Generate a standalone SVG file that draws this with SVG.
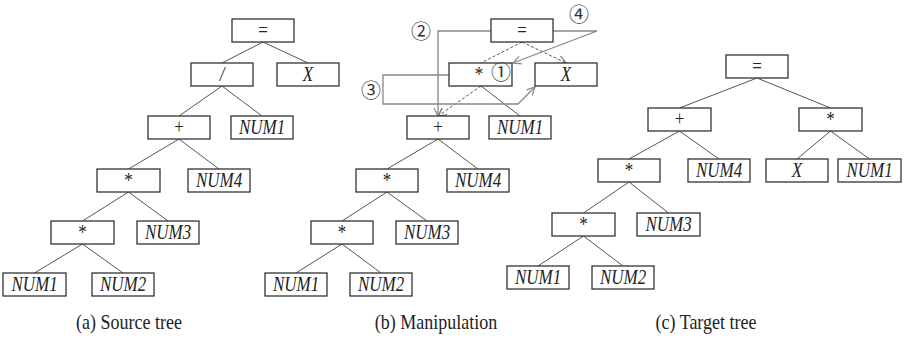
<svg xmlns="http://www.w3.org/2000/svg" width="905" height="340" viewBox="0 0 905 340">
<style>
.box{fill:#fff;stroke:#333;stroke-width:1.3}
.t{font-family:'Liberation Serif','Times New Roman',serif;font-size:17px;text-anchor:middle;fill:#222}
.i{font-style:italic}
.e{stroke:#555;stroke-width:1;fill:none}
.d{stroke:#555;stroke-width:1;fill:none;stroke-dasharray:3,2}
.m{stroke:#888;stroke-width:1.3;fill:none}
.cap{font-family:'Liberation Serif','Times New Roman',serif;font-size:18px;text-anchor:middle;fill:#222}
.cn{font-family:'Noto Sans CJK JP','DejaVu Sans',sans-serif;font-size:20px;text-anchor:middle;fill:#333}
</style>
<defs>
<marker id="ah" markerWidth="10" markerHeight="10" refX="9" refY="5" orient="auto" markerUnits="userSpaceOnUse">
<path d="M1,1 L9,5 L1,9" fill="none" stroke="#888" stroke-width="1.2"/>
</marker>
<marker id="ahd" markerWidth="10" markerHeight="10" refX="9" refY="5" orient="auto" markerUnits="userSpaceOnUse">
<path d="M1,1 L9,5 L1,9" fill="none" stroke="#555" stroke-width="1"/>
</marker>
</defs>
<g id="connectors">
<line class="e" x1="263" y1="42" x2="222" y2="63"/>
<line class="e" x1="263" y1="42" x2="308" y2="63"/>
<line class="e" x1="222" y1="86" x2="179" y2="116"/>
<line class="e" x1="222" y1="86" x2="262" y2="116"/>
<line class="e" x1="179" y1="139" x2="128.5" y2="169"/>
<line class="e" x1="179" y1="139" x2="219" y2="169"/>
<line class="e" x1="128.5" y1="192" x2="82.5" y2="221"/>
<line class="e" x1="128.5" y1="192" x2="168" y2="221"/>
<line class="e" x1="82.5" y1="244" x2="34.5" y2="273"/>
<line class="e" x1="82.5" y1="244" x2="123" y2="273"/>
<line class="d" x1="522" y1="42" x2="481" y2="63"/>
<line class="d" x1="522" y1="42" x2="566" y2="63" marker-end="url(#ahd)"/>
<line class="d" x1="481" y1="86" x2="438" y2="116" marker-end="url(#ahd)"/>
<line class="e" x1="481" y1="86" x2="520" y2="116"/>
<line class="e" x1="438" y1="139" x2="387" y2="169"/>
<line class="e" x1="438" y1="139" x2="478" y2="169"/>
<line class="e" x1="387" y1="192" x2="342" y2="221"/>
<line class="e" x1="387" y1="192" x2="427" y2="221"/>
<line class="e" x1="342" y1="244" x2="296" y2="273"/>
<line class="e" x1="342" y1="244" x2="381" y2="273"/>
<polyline class="m" points="491,31 438,31 438,116" marker-end="url(#ah)"/>
<polyline class="m" points="449,75 383,75 383,104 518,104 535,87" marker-end="url(#ah)"/>
<polyline class="m" points="553,31 597,31 513,63" marker-end="url(#ah)"/>
<line class="e" x1="757" y1="78" x2="679.5" y2="108"/>
<line class="e" x1="757" y1="78" x2="830.5" y2="108"/>
<line class="e" x1="679.5" y1="131" x2="629" y2="159"/>
<line class="e" x1="679.5" y1="131" x2="719" y2="159"/>
<line class="e" x1="830.5" y1="131" x2="797" y2="159"/>
<line class="e" x1="830.5" y1="131" x2="869.5" y2="159"/>
<line class="e" x1="629" y1="182" x2="583.5" y2="213"/>
<line class="e" x1="629" y1="182" x2="668.5" y2="213"/>
<line class="e" x1="583.5" y1="236" x2="538" y2="266"/>
<line class="e" x1="583.5" y1="236" x2="623" y2="266"/>
</g>
<g id="a_eq"><rect class="box" x="232" y="19" width="62" height="23"/><text class="t" transform="translate(263,37) scale(1,1.18)">=</text></g>
<g id="a_div"><rect class="box" x="191" y="63" width="62" height="23"/><text class="t i" transform="translate(222,81) scale(1,1.18)">/</text></g>
<g id="a_x"><rect class="box" x="277" y="63" width="62" height="23"/><text class="t i" transform="translate(308,81) scale(1,1.18)">X</text></g>
<g id="a_plus"><rect class="box" x="148" y="116" width="62" height="23"/><text class="t" transform="translate(179,134) scale(1,1.18)">+</text></g>
<g id="a_num1"><rect class="box" x="231" y="116" width="62" height="23"/><text class="t i" transform="translate(262,134) scale(1,1.18)">NUM1</text></g>
<g id="a_mul1"><rect class="box" x="97" y="169" width="63" height="23"/><text class="t" transform="translate(128.5,187) scale(1,1.18)">*</text></g>
<g id="a_num4"><rect class="box" x="188" y="169" width="62" height="23"/><text class="t i" transform="translate(219,187) scale(1,1.18)">NUM4</text></g>
<g id="a_mul2"><rect class="box" x="51" y="221" width="63" height="23"/><text class="t" transform="translate(82.5,239) scale(1,1.18)">*</text></g>
<g id="a_num3"><rect class="box" x="137" y="221" width="62" height="23"/><text class="t i" transform="translate(168,239) scale(1,1.18)">NUM3</text></g>
<g id="a_num1b"><rect class="box" x="3" y="273" width="63" height="23"/><text class="t i" transform="translate(34.5,291) scale(1,1.18)">NUM1</text></g>
<g id="a_num2"><rect class="box" x="92" y="273" width="62" height="23"/><text class="t i" transform="translate(123,291) scale(1,1.18)">NUM2</text></g>
<g id="b_eq"><rect class="box" x="491" y="19" width="62" height="23"/><text class="t" transform="translate(522,37) scale(1,1.18)">=</text></g>
<g id="b_mul"><rect class="box" x="449" y="63" width="63" height="23"/><text class="t" transform="translate(479,81) scale(1,1.18)">*</text></g>
<g id="b_x"><rect class="box" x="535" y="63" width="62" height="23"/><text class="t i" transform="translate(566,81) scale(1,1.18)">X</text></g>
<g id="b_plus"><rect class="box" x="407" y="116" width="62" height="23"/><text class="t" transform="translate(438,134) scale(1,1.18)">+</text></g>
<g id="b_num1"><rect class="box" x="489" y="116" width="62" height="23"/><text class="t i" transform="translate(520,134) scale(1,1.18)">NUM1</text></g>
<g id="b_mul1"><rect class="box" x="356" y="169" width="62" height="23"/><text class="t" transform="translate(387,187) scale(1,1.18)">*</text></g>
<g id="b_num4"><rect class="box" x="447" y="169" width="62" height="23"/><text class="t i" transform="translate(478,187) scale(1,1.18)">NUM4</text></g>
<g id="b_mul2"><rect class="box" x="311" y="221" width="62" height="23"/><text class="t" transform="translate(342,239) scale(1,1.18)">*</text></g>
<g id="b_num3"><rect class="box" x="396" y="221" width="62" height="23"/><text class="t i" transform="translate(427,239) scale(1,1.18)">NUM3</text></g>
<g id="b_num1b"><rect class="box" x="265" y="273" width="62" height="23"/><text class="t i" transform="translate(296,291) scale(1,1.18)">NUM1</text></g>
<g id="b_num2"><rect class="box" x="350" y="273" width="62" height="23"/><text class="t i" transform="translate(381,291) scale(1,1.18)">NUM2</text></g>
<g id="b_labels">
<text class="cn" x="501" y="80">①</text>
<text class="cn" x="421" y="38.5">②</text>
<text class="cn" x="371" y="97.5">③</text>
<text class="cn" x="579" y="21.5">④</text>
</g>
<g id="c_eq"><rect class="box" x="726" y="55" width="62" height="23"/><text class="t" transform="translate(757,73) scale(1,1.18)">=</text></g>
<g id="c_plus"><rect class="box" x="648" y="108" width="63" height="23"/><text class="t" transform="translate(679.5,126) scale(1,1.18)">+</text></g>
<g id="c_mul"><rect class="box" x="799" y="108" width="63" height="23"/><text class="t" transform="translate(830.5,126) scale(1,1.18)">*</text></g>
<g id="c_mul1"><rect class="box" x="598" y="159" width="62" height="23"/><text class="t" transform="translate(629,177) scale(1,1.18)">*</text></g>
<g id="c_num4"><rect class="box" x="688" y="159" width="62" height="23"/><text class="t i" transform="translate(719,177) scale(1,1.18)">NUM4</text></g>
<g id="c_x"><rect class="box" x="766" y="159" width="62" height="23"/><text class="t i" transform="translate(797,177) scale(1,1.18)">X</text></g>
<g id="c_num1"><rect class="box" x="838" y="159" width="63" height="23"/><text class="t i" transform="translate(869.5,177) scale(1,1.18)">NUM1</text></g>
<g id="c_mul2"><rect class="box" x="552" y="213" width="63" height="23"/><text class="t" transform="translate(583.5,231) scale(1,1.18)">*</text></g>
<g id="c_num3"><rect class="box" x="637" y="213" width="63" height="23"/><text class="t i" transform="translate(668.5,231) scale(1,1.18)">NUM3</text></g>
<g id="c_num1b"><rect class="box" x="507" y="266" width="62" height="23"/><text class="t i" transform="translate(538,284) scale(1,1.18)">NUM1</text></g>
<g id="c_num2"><rect class="box" x="592" y="266" width="62" height="23"/><text class="t i" transform="translate(623,284) scale(1,1.18)">NUM2</text></g>
<g id="captions">
<text class="cap" transform="translate(129,329) scale(1,1.18)">(a) Source tree</text>
<text class="cap" transform="translate(436,329) scale(1,1.18)">(b) Manipulation</text>
<text class="cap" transform="translate(706,329) scale(1,1.18)">(c) Target tree</text>
</g>
</svg>
